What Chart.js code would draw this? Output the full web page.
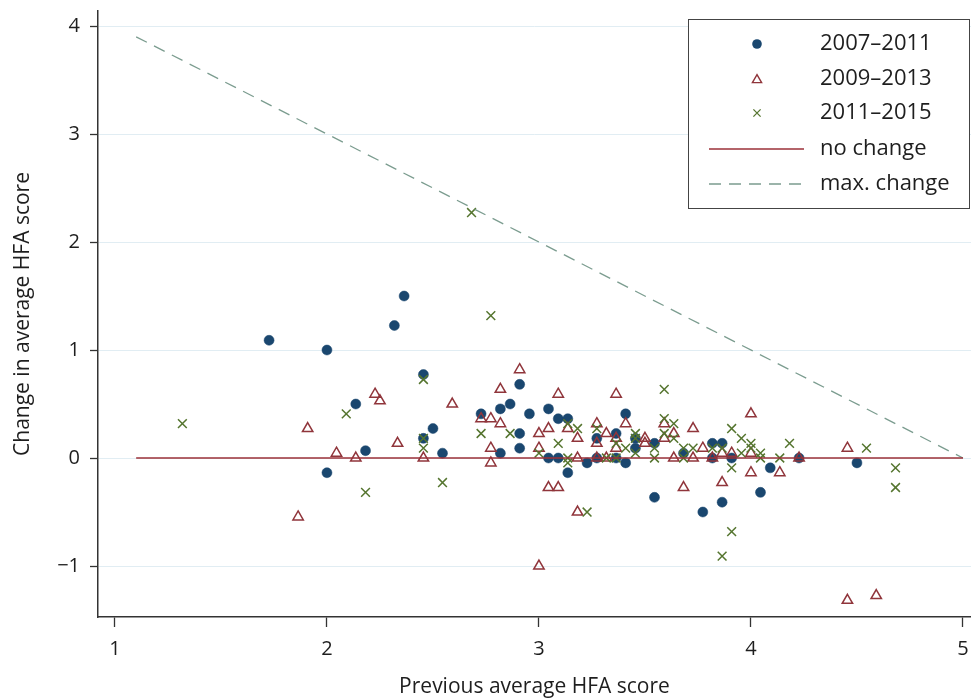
<!DOCTYPE html>
<html>
<head>
<meta charset="utf-8">
<title>Change in average HFA score</title>
<script src="https://cdn.jsdelivr.net/npm/chart.js@4.4.1/dist/chart.umd.min.js"></script>
<style>
  html, body { margin: 0; padding: 0; background: #fff; }
  #wrap { width: 971px; height: 700px; }
</style>
</head>
<body>
<div id="wrap"><canvas id="chart" width="971" height="700"></canvas></div>
<script>
// axis ticks
const xTicks = [1, 2, 3, 4, 5];
const yTicks = [-1, 0, 1, 2, 3, 4];
const seriesLabels = ["2007–2011", "2009–2013", "2011–2015", "no change", "max. change"];

// [previous score, change]
const points0711 = [
  [1.727, 1.09], [2.0, 1.0], [2.0, -0.136], [2.136, 0.5], [2.182, 0.068],
  [2.318, 1.227], [2.364, 1.5], [2.455, 0.773], [2.455, 0.182], [2.5, 0.273],
  [2.545, 0.045], [2.727, 0.409], [2.818, 0.455], [2.818, 0.045], [2.864, 0.5],
  [2.909, 0.682], [2.909, 0.227], [2.909, 0.091], [2.955, 0.409], [3.045, 0.455],
  [3.045, 0.0], [3.091, 0.364], [3.091, 0.0], [3.136, 0.364], [3.136, -0.136],
  [3.227, -0.045], [3.273, 0.182], [3.273, 0.0], [3.364, 0.227], [3.364, 0.0],
  [3.409, 0.409], [3.409, -0.045], [3.455, 0.182], [3.455, 0.091], [3.545, 0.136],
  [3.545, -0.364], [3.682, 0.045], [3.773, -0.5], [3.818, 0.136], [3.818, 0.0],
  [3.864, 0.136], [3.864, -0.409], [3.909, 0.0], [4.045, -0.318], [4.091, -0.091],
  [4.227, 0.0], [4.5, -0.045]
];
const points0913 = [
  [1.864, -0.545], [1.909, 0.273], [2.045, 0.045], [2.136, 0.0], [2.227, 0.591],
  [2.25, 0.53], [2.333, 0.136], [2.455, 0.0], [2.591, 0.5], [2.727, 0.364],
  [2.773, 0.364], [2.773, 0.091], [2.773, -0.045], [2.818, 0.636], [2.818, 0.318],
  [2.909, 0.818], [3.0, 0.227], [3.0, 0.091], [3.0, -1.0], [3.045, 0.273],
  [3.045, -0.273], [3.091, 0.591], [3.091, -0.273], [3.136, 0.273], [3.182, 0.182],
  [3.182, 0.0], [3.182, -0.5], [3.273, 0.318], [3.273, 0.136], [3.273, 0.0],
  [3.318, 0.227], [3.318, 0.0], [3.364, 0.591], [3.364, 0.182], [3.364, 0.091],
  [3.409, 0.318], [3.5, 0.182], [3.5, 0.136], [3.591, 0.318], [3.591, 0.182],
  [3.636, 0.227], [3.636, 0.0], [3.682, -0.273], [3.727, 0.273], [3.727, 0.0],
  [3.773, 0.091], [3.818, 0.0], [3.864, 0.045], [3.864, -0.227], [3.909, 0.045],
  [4.0, 0.409], [4.0, 0.045], [4.0, -0.136], [4.136, -0.136], [4.227, 0.0],
  [4.455, 0.091], [4.455, -1.318], [4.591, -1.273]
];
const points1115 = [
  [1.318, 0.318], [2.091, 0.409], [2.182, -0.318], [2.455, 0.727], [2.455, 0.182],
  [2.455, 0.091], [2.545, -0.227], [2.682, 2.273], [2.727, 0.227], [2.773, 1.318],
  [2.864, 0.227], [3.0, 0.045], [3.091, 0.136], [3.136, 0.318], [3.136, 0.0],
  [3.136, -0.045], [3.182, 0.273], [3.227, -0.5], [3.273, 0.273], [3.318, 0.0],
  [3.364, 0.136], [3.364, 0.0], [3.409, 0.091], [3.455, 0.227], [3.455, 0.182],
  [3.455, 0.045], [3.545, 0.091], [3.545, 0.0], [3.591, 0.636], [3.591, 0.364],
  [3.591, 0.227], [3.636, 0.318], [3.636, 0.182], [3.682, 0.091], [3.682, 0.0],
  [3.727, 0.091], [3.818, 0.091], [3.864, 0.091], [3.864, -0.909], [3.909, 0.273],
  [3.909, -0.091], [3.909, -0.682], [3.955, 0.182], [3.955, 0.045], [4.0, 0.136],
  [4.0, 0.091], [4.045, 0.045], [4.045, 0.0], [4.136, 0.0], [4.182, 0.136],
  [4.545, 0.091], [4.682, -0.091], [4.682, -0.273]
];
const noChangeLine = [[1.1, 0], [5, 0]];
const maxChangeLine = [[1.1, 3.9], [5, 0]];

const NAVY = "#1a476f";
const MAROON = "#90353b";
const GREEN = "#55752f";
const RED_LINE = "#9b3038";
const DASH_LINE = "#7b9c8f";
const FONT = "'Open Sans', sans-serif";

const toXY = (arr) => arr.map(([x, y]) => ({ x, y }));
const minusSign = (v) => (v < 0 ? "\u2212" + Math.abs(v) : String(v));

// boxed legend like the original (markers in one column, labels in another)
const boxLegend = {
  id: "boxLegend",
  afterDraw(chart) {
    const ctx = chart.ctx;
    const rows = [44, 79, 113, 149, 184];
    const mx = 757;
    ctx.save();
    ctx.fillStyle = "#fff";
    ctx.fillRect(688.5, 19.5, 281, 189);
    ctx.strokeStyle = "#444";
    ctx.lineWidth = 1;
    ctx.strokeRect(688.5, 19.5, 281, 189);

    // circle
    ctx.fillStyle = NAVY;
    ctx.beginPath();
    ctx.arc(mx, rows[0], 4.8, 0, Math.PI * 2);
    ctx.fill();
    // triangle
    ctx.strokeStyle = MAROON;
    ctx.lineWidth = 1.4;
    ctx.beginPath();
    ctx.moveTo(mx, rows[1] - 4.4);
    ctx.lineTo(mx + 4.6, rows[1] + 3.6);
    ctx.lineTo(mx - 4.6, rows[1] + 3.6);
    ctx.closePath();
    ctx.stroke();
    // x
    ctx.strokeStyle = GREEN;
    ctx.lineWidth = 1.3;
    ctx.beginPath();
    ctx.moveTo(mx - 3.6, rows[2] - 3.6);
    ctx.lineTo(mx + 3.6, rows[2] + 3.6);
    ctx.moveTo(mx + 3.6, rows[2] - 3.6);
    ctx.lineTo(mx - 3.6, rows[2] + 3.6);
    ctx.stroke();
    // lines
    ctx.strokeStyle = RED_LINE;
    ctx.lineWidth = 1.5;
    ctx.beginPath();
    ctx.moveTo(709, rows[3]);
    ctx.lineTo(804, rows[3]);
    ctx.stroke();
    ctx.strokeStyle = DASH_LINE;
    ctx.setLineDash([12, 8]);
    ctx.beginPath();
    ctx.moveTo(709, rows[4]);
    ctx.lineTo(804, rows[4]);
    ctx.stroke();
    ctx.setLineDash([]);

    ctx.fillStyle = "#1e1e1e";
    ctx.font = "22px " + FONT;
    ctx.textBaseline = "middle";
    ctx.textAlign = "left";
    seriesLabels.forEach((t, i) => ctx.fillText(t, 820, rows[i]));
    ctx.restore();
  }
};

const ctx = document.getElementById("chart").getContext("2d");
new Chart(ctx, {
  type: "scatter",
  data: {
    datasets: [
      {
        type: "line",
        label: seriesLabels[3],
        data: toXY(noChangeLine),
        borderColor: RED_LINE,
        borderWidth: 1.6,
        pointRadius: 0,
        order: 0
      },
      {
        type: "line",
        label: seriesLabels[4],
        data: toXY(maxChangeLine),
        borderColor: DASH_LINE,
        borderWidth: 1.3,
        borderDash: [12, 8],
        pointRadius: 0,
        order: 0
      },
      {
        label: seriesLabels[2],
        data: toXY(points1115),
        pointStyle: "crossRot",
        pointRadius: 6.2,
        borderColor: GREEN,
        borderWidth: 1.5,
        order: 1
      },
      {
        label: seriesLabels[1],
        data: toXY(points0913),
        pointStyle: "triangle",
        pointRadius: 6,
        borderColor: MAROON,
        backgroundColor: "rgba(0,0,0,0)",
        borderWidth: 1.5,
        order: 2
      },
      {
        label: seriesLabels[0],
        data: toXY(points0711),
        pointStyle: "circle",
        pointRadius: 5,
        backgroundColor: NAVY,
        borderColor: NAVY,
        borderWidth: 0.5,
        order: 3
      }
    ]
  },
  options: {
    responsive: false,
    animation: false,
    layout: { autoPadding: false, padding: { top: 11, right: 0, bottom: 0, left: 0 } },
    plugins: {
      legend: { display: false },
      tooltip: { enabled: false }
    },
    scales: {
      x: {
        type: "linear",
        min: 0.92,
        max: 5.038,
        afterBuildTicks: (s) => { s.ticks = xTicks.map((v) => ({ value: v })); },
        afterFit: (s) => { s.height = 83; s.paddingLeft = 0; s.paddingRight = 0; },
        grid: { drawOnChartArea: false, tickColor: "#333", tickLength: 10, tickWidth: 1.3 },
        border: { color: "#333", width: 1.5 },
        ticks: { color: "#1e1e1e", font: { family: FONT, size: 20 }, padding: 10, callback: minusSign },
        title: { display: true, text: "Previous average HFA score", color: "#1e1e1e", font: { family: FONT, size: 21 }, padding: { top: 0, bottom: 0 } }
      },
      y: {
        type: "linear",
        min: -1.472,
        max: 4.139,
        afterBuildTicks: (s) => { s.ticks = yTicks.map((v) => ({ value: v })); },
        afterFit: (s) => { s.width = 98; s.paddingTop = 0; s.paddingBottom = 0; },
        grid: { color: "#e1edf3", lineWidth: 1, tickColor: "#333", tickLength: 8, tickWidth: 1.3 },
        border: { color: "#333", width: 1.5 },
        ticks: { color: "#1e1e1e", font: { family: FONT, size: 20 }, padding: 10, callback: minusSign },
        title: { display: true, text: "Change in average HFA score", color: "#1e1e1e", font: { family: FONT, size: 21 }, padding: { top: 10, bottom: 0 } }
      }
    }
  },
  plugins: [boxLegend]
});
</script>
</body>
</html>
